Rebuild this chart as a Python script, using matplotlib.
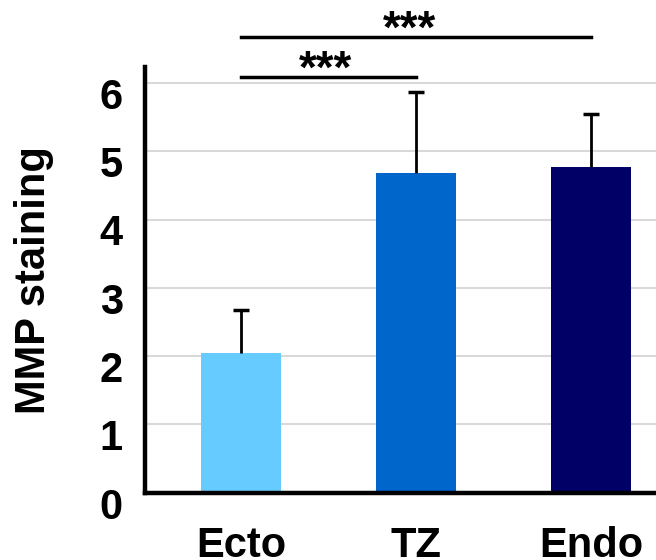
import matplotlib.pyplot as plt
from matplotlib.transforms import ScaledTranslation

# values
groups = ["Ecto", "TZ", "Endo"]
means = [2.05, 4.68, 4.77]
errs = [0.62, 1.19, 0.77]
colors = ["#66CCFF", "#0066CC", "#000066"]
ticks = [0, 1, 2, 3, 4, 5, 6]
# significance brackets: (start group, end group, height, label)
sig = [(0, 1, 6.08, "***"), (0, 2, 6.67, "***")]

plt.rcParams["font.family"] = ["Liberation Sans", "DejaVu Sans"]
plt.rcParams["font.weight"] = "bold"

fig = plt.figure(figsize=(6.56, 5.6), dpi=100)
ax = fig.add_axes([0.221, 0.12, 0.779, 0.76])

x = range(len(groups))
ax.bar(x, means, width=0.457, color=colors, zorder=2)
eb = ax.errorbar(x, means, yerr=[[0] * len(errs), errs], fmt="none",
                 ecolor="black", elinewidth=2, capsize=5.5, capthick=2.5, zorder=3)
# only the upper cap is drawn in the original
eb[1][0].set_visible(False)

ax.set_ylim(0, 6.23)
ax.set_xlim(-0.55, 2.37)
ax.set_yticks(ticks)
ax.set_xticks(list(x))
ax.set_xticklabels(groups)
ax.yaxis.grid(True, color="#D9D9D9", linewidth=1.5, zorder=0)
ax.set_axisbelow(True)
ax.tick_params(axis="both", length=0, labelsize=30)
ax.tick_params(axis="y", pad=16)
ax.tick_params(axis="x", pad=24)
shift = ScaledTranslation(0, -7.5 / 72, fig.dpi_scale_trans)
for t in ax.get_yticklabels():
    t.set_transform(t.get_transform() + shift)
for t in ax.get_xticklabels() + ax.get_yticklabels():
    t.set_fontweight("bold")
ax.set_ylabel("MMP staining", fontsize=30, fontweight="bold", labelpad=33)

for s in ["top", "right"]:
    ax.spines[s].set_visible(False)
for s in ["left", "bottom"]:
    ax.spines[s].set_linewidth(3.2)

for a, b, h, lab in sig:
    ax.plot([a, b], [h, h], color="black", linewidth=2.5, clip_on=False)
    ax.text((a + b) / 2 - 0.02 * b, h - 0.23, lab, ha="center", va="bottom",
            fontsize=33, fontweight="bold")

fig.savefig("out.png", dpi=100)
